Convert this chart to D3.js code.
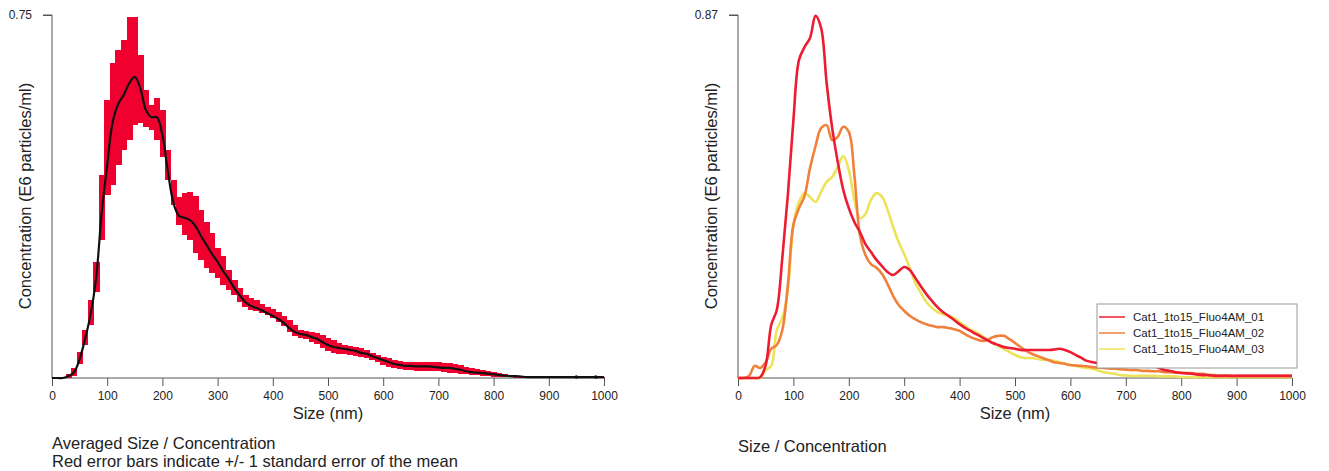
<!DOCTYPE html>
<html><head><meta charset="utf-8">
<script src="https://cdn.jsdelivr.net/npm/d3@7"></script>
<style>
html,body{margin:0;padding:0;background:#fff;}
text{font-family:"Liberation Sans",Arial,Helvetica,sans-serif;}
</style></head>
<body>
<svg id="chart" width="1329" height="471"></svg>
<script>
// ---------- DATA ----------
const sizes = d3.range(0, 1001, 10); // nm grid
const xTicks = [0,100,200,300,400,500,600,700,800,900,1000];

// Left: averaged concentration (E6 particles/ml)
const meanConc = [0,0,0,0.004,0.012,0.039,0.081,0.132,0.207,0.341,
 0.440,0.529,0.566,0.585,0.609,0.622,0.599,0.554,0.539,0.539,
 0.502,0.426,0.362,0.335,0.331,0.326,0.314,0.293,0.275,0.256,
 0.240,0.221,0.205,0.186,0.171,0.157,0.149,0.145,0.140,0.134,
 0.128,0.122,0.114,0.103,0.095,0.091,0.089,0.085,0.081,0.074,
 0.068,0.064,0.062,0.060,0.058,0.056,0.052,0.050,0.045,0.041,
 0.037,0.033,0.029,0.027,0.025,0.025,0.024,0.024,0.024,0.023,
 0.022,0.021,0.021,0.019,0.017,0.014,0.012,0.011,0.010,0.009,
 0.008,0.006,0.005,0.004,0.004,0.003,0.002,0.002,0.002,0.002,
 0.002,0.002,0.002,0.002,0.002,0.002,0.002,0.002,0.002,0.002,0.002];
const upperConc = [0,0,0,0.008,0.021,0.054,0.099,0.161,0.240,0.419,
 0.574,0.651,0.678,0.698,0.746,0.746,0.667,0.595,0.564,0.578,
 0.554,0.471,0.409,0.374,0.382,0.384,0.376,0.347,0.322,0.300,
 0.269,0.252,0.223,0.202,0.186,0.171,0.165,0.161,0.153,0.147,
 0.143,0.136,0.128,0.120,0.110,0.099,0.097,0.095,0.093,0.089,
 0.083,0.079,0.072,0.068,0.066,0.064,0.062,0.058,0.052,0.048,
 0.043,0.041,0.037,0.035,0.033,0.033,0.033,0.033,0.033,0.033,
 0.033,0.031,0.031,0.029,0.027,0.023,0.021,0.019,0.017,0.014,
 0.012,0.010,0.008,0.006,0.004,0.003,0.003,0.003,0.003,0.003,
 0.003,0.003,0.003,0.003,0.003,0.003,0.003,0.003,0.003,0.003,0.003];
const lowerConc = [0,0,0,0,0.004,0.029,0.068,0.110,0.178,0.285,
 0.378,0.399,0.440,0.471,0.492,0.523,0.527,0.519,0.512,0.492,
 0.457,0.409,0.357,0.316,0.295,0.285,0.258,0.244,0.227,0.217,
 0.207,0.192,0.182,0.171,0.157,0.147,0.140,0.138,0.134,0.130,
 0.124,0.116,0.107,0.095,0.087,0.083,0.081,0.074,0.070,0.062,
 0.056,0.052,0.050,0.050,0.048,0.045,0.043,0.041,0.037,0.033,
 0.027,0.023,0.021,0.019,0.017,0.017,0.014,0.014,0.014,0.014,
 0.014,0.012,0.010,0.010,0.008,0.008,0.006,0.006,0.004,0.004,
 0.002,0.002,0.002,0.002,0.001,0.001,0.001,0.001,0.001,0.001,
 0.001,0.001,0.001,0.001,0.001,0.001,0.001,0.001,0.001,0.001,0.001];

// Right: individual runs
const seriesNames = ["Cat1_1to15_Fluo4AM_01","Cat1_1to15_Fluo4AM_02","Cat1_1to15_Fluo4AM_03"];
const run01 = [0,0,0,0,0.002,0.031,0.127,0.163,0.288,0.439,
 0.618,0.762,0.793,0.815,0.868,0.839,0.707,0.599,0.518,0.451,
 0.407,0.374,0.350,0.321,0.302,0.283,0.268,0.254,0.247,0.256,
 0.266,0.259,0.240,0.220,0.201,0.185,0.170,0.158,0.149,0.139,
 0.129,0.120,0.113,0.105,0.098,0.091,0.084,0.079,0.074,0.072,
 0.070,0.067,0.067,0.067,0.067,0.067,0.067,0.068,0.070,0.067,
 0.062,0.055,0.048,0.041,0.038,0.036,0.036,0.037,0.038,0.041,
 0.042,0.042,0.041,0.038,0.034,0.029,0.024,0.019,0.017,0.014,
 0.012,0.011,0.010,0.008,0.007,0.007,0.005,0.005,0.005,0.005,
 0.005,0.005,0.005,0.005,0.005,0.005,0.005,0.005,0.005,0.005,0.005];
const run02 = [0,0,0.005,0.029,0.024,0.038,0.070,0.079,0.115,0.223,
 0.367,0.407,0.436,0.503,0.556,0.599,0.606,0.570,0.578,0.602,
 0.590,0.487,0.343,0.295,0.273,0.264,0.249,0.225,0.197,0.175,
 0.161,0.149,0.141,0.134,0.129,0.125,0.122,0.122,0.120,0.117,
 0.113,0.105,0.098,0.093,0.089,0.091,0.098,0.101,0.101,0.093,
 0.084,0.074,0.065,0.058,0.053,0.048,0.043,0.038,0.036,0.034,
 0.031,0.030,0.029,0.028,0.026,0.025,0.024,0.023,0.022,0.021,
 0.020,0.019,0.019,0.017,0.017,0.016,0.016,0.014,0.014,0.013,
 0.013,0.012,0.012,0.010,0.010,0.007,0.007,0.006,0.006,0.005,
 0.005,0.005,0.005,0.005,0.005,0.005,0.005,0.005,0.005,0.005,0.005];
const run03 = [0,0,0,0,0,0.019,0.029,0.115,0.144,0.211,
 0.367,0.422,0.443,0.434,0.422,0.446,0.470,0.482,0.506,0.532,
 0.499,0.427,0.383,0.393,0.427,0.443,0.434,0.403,0.362,0.326,
 0.297,0.264,0.228,0.204,0.182,0.168,0.158,0.153,0.149,0.144,
 0.134,0.125,0.115,0.110,0.101,0.093,0.084,0.077,0.070,0.062,
 0.055,0.050,0.048,0.048,0.046,0.044,0.043,0.041,0.038,0.034,
 0.031,0.029,0.026,0.024,0.022,0.018,0.014,0.012,0.010,0.007,
 0.006,0.005,0.005,0.005,0.005,0.005,0.004,0.004,0.004,0.004,
 0.002,0.002,0.002,0.002,0.002,0.002,0.002,0.002,0.002,0.002,
 0.002,0.002,0.002,0.002,0.002,0.002,0.002,0.002,0.002,0.002,0.002];
const seriesColors = ["#ec1c33","#f0803c","#ece35a"];

const leftYMax = 0.75, rightYMax = 0.87;
const xTitle = "Size (nm)";
const yTitle = "Concentration (E6 particles/ml)";

// ---------- DRAW ----------
const svg = d3.select("#chart");
const axisColor = "#555";

function frame(x0, x1, yMax, labelX, labelTxt) {
  const x = d3.scaleLinear().domain([0,1000]).range([x0, x1]);
  const y = d3.scaleLinear().domain([0,yMax]).range([378, 15]);
  const g = svg.append("g");
  const xa = g.append("g").attr("transform","translate(0,378)")
    .call(d3.axisBottom(x).tickValues(xTicks).tickSize(8).tickPadding(5).tickFormat(d3.format("d")));
  xa.select(".domain").attr("stroke",axisColor).attr("d",`M${x0},0H${x1}`);
  xa.selectAll(".tick line").attr("stroke",axisColor);
  xa.selectAll(".tick text").attr("fill","#222").style("font-size","12px");
  const ya = g.append("g").attr("transform",`translate(${x0},0)`)
    .call(d3.axisLeft(y).tickValues([yMax]).tickSize(9).tickPadding(11).tickFormat(()=>labelTxt));
  ya.select(".domain").attr("stroke",axisColor).attr("d",`M-9,15H0V378`);
  ya.selectAll(".tick line").attr("stroke",axisColor);
  ya.selectAll(".tick text").attr("fill","#222").style("font-size","12px");
  g.append("text").attr("x",(x0+x1)/2).attr("y",419).attr("text-anchor","middle")
    .style("font-size","16.5px").attr("fill","#222").text(xTitle);
  g.append("text").attr("transform",`translate(${labelX},196) rotate(-90)`).attr("text-anchor","middle")
    .style("font-size","16.5px").attr("fill","#222").text(yTitle);
  return {x,y,g};
}

// Left chart
const L = frame(52, 604, leftYMax, 31, "0.75");
const bins = sizes.map((s,i)=>({s, lo:lowerConc[i], hi:upperConc[i], m:meanConc[i]}));
L.g.append("g").attr("shape-rendering","crispEdges").selectAll("rect").data(bins.filter(d=>d.hi>d.lo)).join("rect")
  .attr("x", d=>L.x(Math.max(0,d.s-5)))
  .attr("width", d=>L.x(Math.min(1000,d.s+5)) - L.x(Math.max(0,d.s-5)) + 0.6)
  .attr("y", d=>L.y(d.hi))
  .attr("height", d=>Math.max(0.5, L.y(d.lo)-L.y(d.hi)))
  .attr("fill","#f0002e");
L.g.append("path").datum(bins)
  .attr("fill","none").attr("stroke","#111").attr("stroke-width",2.2)
  .attr("d", d3.line().x(d=>L.x(d.s)).y(d=>L.y(d.m)).curve(d3.curveCatmullRom));
// small end markers on the mean line
L.g.append("g").selectAll("circle").data([950, 985]).join("circle")
  .attr("cx", d=>L.x(d)).attr("cy", L.y(0.002)).attr("r",1.8).attr("fill","#111");

svg.append("text").attr("x",52).attr("y",449).style("font-size","16.5px").attr("fill","#222")
  .text("Averaged Size / Concentration");
svg.append("text").attr("x",52).attr("y",467).style("font-size","16.5px").attr("fill","#222")
  .text("Red error bars indicate +/- 1 standard error of the mean");

// Right chart
const R = frame(738, 1292, rightYMax, 717, "0.87");
const runs = [run01, run02, run03];
[2,1,0].forEach(k=>{
  R.g.append("path").datum(sizes.map((s,i)=>({s, v:runs[k][i]})))
    .attr("fill","none").attr("stroke",seriesColors[k]).attr("stroke-width",2.6)
    .attr("stroke-linejoin","round")
    .attr("d", d3.line().x(d=>R.x(d.s)).y(d=>R.y(d.v)).curve(d3.curveCatmullRom));
});
svg.append("text").attr("x",738).attr("y",452).style("font-size","16.5px").attr("fill","#222")
  .text("Size / Concentration");

// Legend
const lg = svg.append("g").attr("transform","translate(1097,304)");
lg.append("rect").attr("width",200).attr("height",64).attr("fill","#fff")
  .attr("stroke","#9a9a9a").attr("stroke-width",1);
seriesNames.forEach((n,i)=>{
  lg.append("line").attr("x1",2).attr("x2",28).attr("y1",13+i*16).attr("y2",13+i*16)
    .attr("stroke",seriesColors[i]).attr("stroke-width",1.5);
  lg.append("text").attr("x",36).attr("y",17+i*16).style("font-size","11.5px").attr("fill","#222").text(n);
});
</script>
</body></html>
